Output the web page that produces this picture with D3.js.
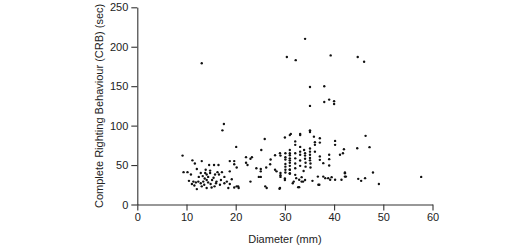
<!DOCTYPE html>
<html>
<head>
<meta charset="utf-8">
<script src="https://cdn.jsdelivr.net/npm/d3@7"></script>
<style>
  body { margin: 0; background: #fff; }
  text { font-family: "Liberation Sans", Arial, sans-serif; }
</style>
</head>
<body>
<div id="chart"></div>
<script>
// diameter (mm) and CRB (sec), paired by index
var diameter = [
	13.1, 17.6, 17.3, 34.1, 30.4, 32.2, 39.3, 44.8, 46.1, 35.1, 38.0, 35.1, 38.0, 39.0, 40.0, 40.0,
	9.2, 20.1, 11.2, 11.7, 13.1, 9.4, 10.2, 10.9, 12.1, 14.6, 15.6, 16.5, 18.8, 19.7, 19.7, 20.2,
	12.9, 13.8, 13.3, 14.1, 14.4, 14.8, 16.3, 16.6, 17.2, 17.7, 11.4, 11.9, 12.4, 11.1, 11.6, 12.1,
	12.9, 13.4, 13.6, 14.1, 14.4, 14.9, 15.2, 15.7, 15.1, 16.1, 16.8, 17.7, 18.2, 18.8, 18.5, 19.7,
	14.1, 13.1, 18.8, 19.2, 20.2, 20.6, 13.7, 15.5, 16.0, 17.0, 12.5, 14.8, 10.5, 15.8, 13.9,
	22.1, 23.0, 23.3, 22.1, 22.4, 24.2, 25.1, 25.1, 26.2, 27.1, 27.0, 28.0, 28.0, 28.3, 29.0, 29.1,
	25.9, 25.2, 23.0, 24.7, 25.1, 26.0, 26.3, 28.9, 29.1, 29.1, 29.1, 20.5,
	30.1, 30.1, 30.1, 30.1, 30.1, 30.1, 30.1, 31.0, 31.0, 31.0, 31.0, 31.0, 31.0, 31.0, 30.0, 30.0,
	35.1, 33.1, 35.9, 37.1, 37.1, 36.1, 36.1, 40.2, 40.2, 32.1, 32.1, 33.1, 33.1, 33.1, 33.9, 34.1,
	34.1, 34.1, 35.1, 35.1, 35.1, 35.1, 35.1, 36.1, 37.1, 37.1, 31.0, 31.0, 31.0, 32.1, 32.1, 32.1,
	32.1, 33.1, 33.1, 33.8, 34.2, 34.2, 35.2, 35.2, 37.8, 39.0, 39.0, 39.0, 41.8, 41.2, 42.0, 31.0,
	31.0, 32.1, 32.3, 32.9, 33.4, 33.4, 31.8, 31.6, 32.7, 34.1, 33.7, 36.7, 37.8, 36.8, 38.2, 38.8,
	39.2, 39.5, 40.2, 42.2, 42.2, 41.5, 35.1, 31.2, 33.1, 30.0, 29.0, 32.9, 37.0, 35.6,
	46.4, 44.7, 47.2, 42.2, 42.4, 44.9, 45.5, 46.3, 47.9, 49.1, 57.7
];
var crb = [
	179, 102, 94, 210, 187, 183, 189, 187, 181, 149, 150, 125, 130, 133, 131, 127.5,
	62, 73, 56, 52, 55, 41, 41, 38, 45, 50, 50, 50, 55, 55, 51, 47,
	40, 40, 36, 38, 35, 40, 41, 38, 41, 35, 29, 28, 29, 26, 24, 19.5,
	27, 29, 25, 31, 28, 26, 31, 23, 21.5, 29, 25, 27, 29, 26, 21, 21.5,
	21, 23, 42, 32, 23, 21, 33, 34, 27, 31, 35, 43, 30, 38, 44,
	60, 58, 60, 53, 50, 46, 45, 42, 47, 57, 51, 62.5, 44, 42, 65, 62,
	83, 69, 29, 35, 35, 23, 21, 20, 40, 37, 35, 23,
	65, 60, 57, 51.5, 48, 44, 40.5, 88, 69, 62.5, 56, 49, 44, 39, 33, 31,
	92, 88, 86, 84, 78.5, 79, 75.6, 80.6, 75.6, 80, 75.6, 73, 67, 63, 69, 65,
	62, 58, 71, 67, 63, 59, 56, 67, 61, 56.6, 65, 58.5, 53, 65, 58.5, 52,
	46, 55.7, 49, 42.4, 53, 48, 52, 47, 52.4, 63, 57.5, 49.4, 65, 63, 70, 44,
	39.7, 37.6, 33.4, 31.3, 34.7, 29, 29, 27, 22, 31, 29, 35.4, 35.4, 25, 33.4, 33.4,
	31.3, 34.7, 31.3, 39.7, 35.4, 31.3, 94, 89.5, 89.5, 85, 21, 22, 25, 30,
	87, 71.4, 72.7, 40.5, 35.4, 32.5, 30, 33.4, 40.5, 26, 35
];
var xTicks = [0, 10, 20, 30, 40, 50, 60];
var yTicks = [0, 50, 100, 150, 200, 250];

var width = 528, height = 251;
var svg = d3.select("#chart").append("svg").attr("width", width).attr("height", height);

var x = d3.scaleLinear().domain([0, 60]).range([137.3, 432.5]);
var y = d3.scaleLinear().domain([0, 250]).range([204.5, 7.3]);

// axes
var gx = svg.append("g")
	.attr("transform", "translate(0," + y(0) + ")")
	.call(d3.axisBottom(x).tickValues(xTicks).tickSize(6).tickPadding(3).tickSizeOuter(0));
var gy = svg.append("g")
	.attr("transform", "translate(" + x(0) + ",0)")
	.call(d3.axisLeft(y).tickValues(yTicks).tickSize(6).tickPadding(3).tickSizeOuter(0));

[gx, gy].forEach(function(g) {
	g.selectAll("path, line").attr("stroke", "#333").attr("stroke-width", 1.1);
	g.selectAll("text").attr("fill", "#222").style("font-size", "11px")
		.style("font-family", "'Liberation Sans', Arial, sans-serif");
});

// points
svg.append("g").selectAll("circle")
	.data(diameter.map(function(d, i) { return [d, crb[i]]; }))
	.enter().append("circle")
		.attr("cx", function(d) { return x(d[0]); })
		.attr("cy", function(d) { return y(d[1]); })
		.attr("r", 1.2)
		.attr("fill", "#111");

// axis titles
svg.append("text")
	.attr("x", x(30))
	.attr("y", 243)
	.attr("text-anchor", "middle")
	.attr("fill", "#222")
	.style("font-size", "11px")
	.text("Diameter (mm)");

svg.append("text")
	.attr("transform", "translate(103," + ((y(0) + y(250)) / 2) + ") rotate(-90)")
	.attr("text-anchor", "middle")
	.attr("fill", "#222")
	.style("font-size", "11px")
	.text("Complete Righting Behaviour (CRB) (sec)");
</script>
</body>
</html>
